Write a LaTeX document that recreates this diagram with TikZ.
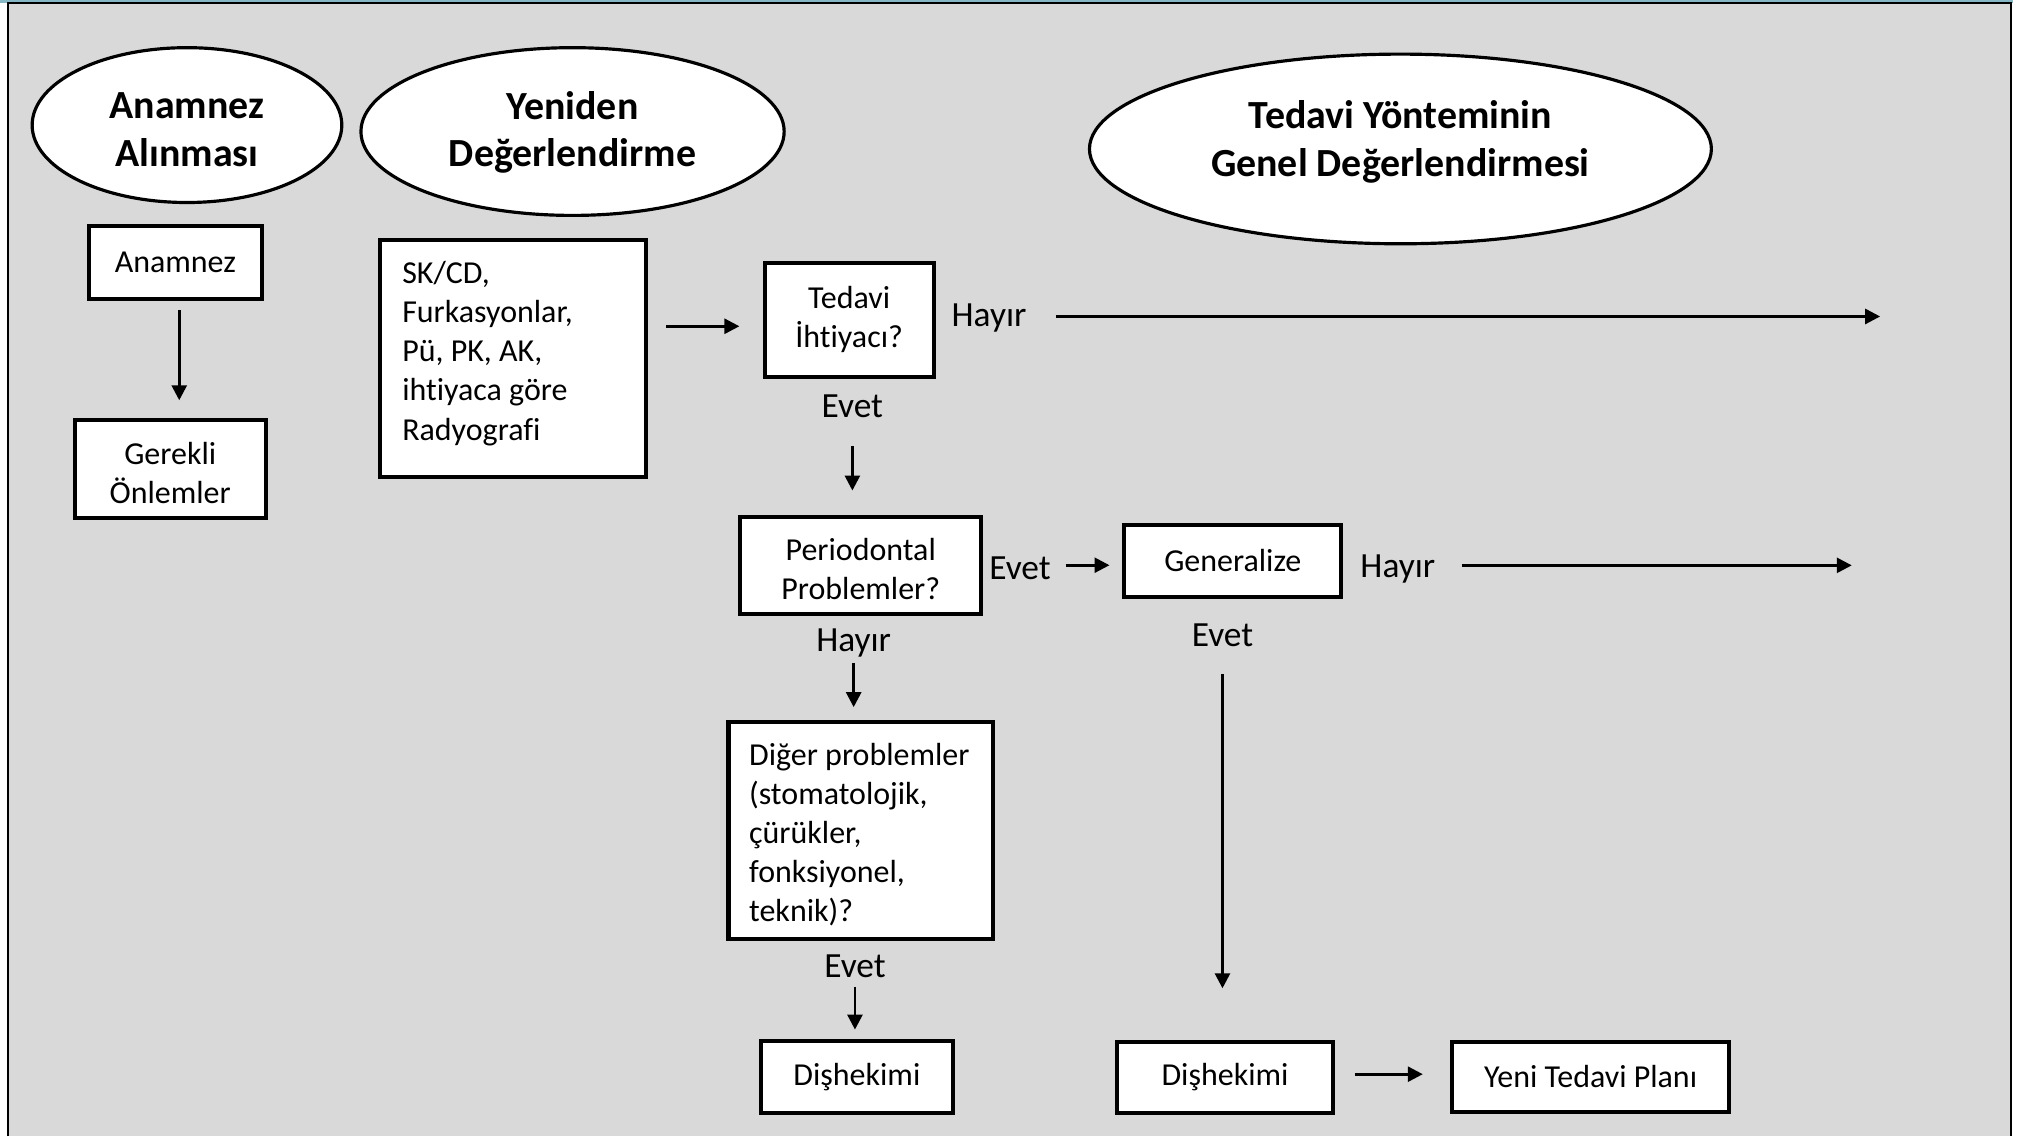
\documentclass[tikz,border=0pt]{standalone}
\usepackage{fontspec}
\setmainfont{Carlito}[Ligatures={NoCommon}]
\usetikzlibrary{arrows.meta, shapes.geometric}
\definecolor{cpanel}{HTML}{D9D9D9}
\definecolor{cteal}{HTML}{86B7C4}
\tikzset{
  every picture/.style={line width=0.6pt},
  box/.style={draw=black, fill=white, line width=0.9pt, align=flush center, inner sep=0pt, font=\fontsize{7.05}{8.62}\selectfont},
  phase/.style={ellipse, draw=black, fill=white, line width=0.7pt, align=flush center, inner sep=0pt, text depth=0pt, font=\fontsize{8.8}{10.5}\selectfont\bfseries},
  arrow/.style={-{Triangle[length=3.3pt, width=3.3pt]}, draw=black, line width=0.6pt},
  answer/.style={inner sep=0pt, anchor=base, font=\fontsize{7.8}{9}\selectfont},
}
\begin{document}
\begin{tikzpicture}[x=0.01cm, y=-0.01cm]
  \useasboundingbox (0,0) rectangle (1568,881);
  % panel
  \fill[cteal] (0,0) rectangle (1561,2.3);
  \fill[cpanel] (6,2.3) rectangle (1559.5,881);
  \draw[line width=0.5pt] (6,881) -- (6,2.3) -- (1559.5,2.3) -- (1559.5,881);
  % phases
  \node[phase, minimum width=2.40cm, minimum height=1.20cm, text height=18.2pt] (anamnezph) at (145,97) {Anamnez\\Alınması};
  \node[phase, minimum width=3.28cm, minimum height=1.30cm, text height=15.6pt] (yenidenph) at (444,102) {Yeniden\\Değerlendirme};
  \node[phase, minimum width=4.82cm, minimum height=1.47cm, text height=12.2pt] (genelph) at (1086,115.5) {Tedavi Yönteminin\\Genel Değerlendirmesi};
  % steps
  \node[box, minimum width=1.34cm, minimum height=0.57cm] (anamnez) at (136,203.5) {Anamnez};
  \node[box, minimum width=1.48cm, minimum height=0.76cm, text height=14.9pt, text depth=0pt] (onlem) at (132,364) {Gerekli\\Önlemler};
  \node[box, align=flush left, text width=1.72cm, inner xsep=0.17cm, minimum height=1.84cm, text height=3pt, text depth=36pt] (bulgu) at (398,278) {SK/CD,\\Furkasyonlar,\\Pü, PK, AK,\\ihtiyaca~göre\\Radyografi};
  \node[box, minimum width=1.31cm, minimum height=0.88cm] (ihtiyac) at (658.5,248) {Tedavi\\İhtiyacı?};
  \node[box, minimum width=1.87cm, minimum height=0.75cm, text height=15.2pt, text depth=0pt] (perio) at (667.5,438.5) {Periodontal\\Problemler?};
  \node[box, minimum width=1.68cm, minimum height=0.56cm] (general) at (956,435) {Generalize};
  \node[box, align=flush left, text width=1.73cm, inner xsep=0.16cm, minimum height=1.68cm, text height=7.2pt, text depth=36pt] (diger) at (667.5,644) {Diğer~problemler\\(stomatolojik,\\çürükler,\\fonksiyonel,\\teknik)?};
  \node[box, minimum width=1.49cm, minimum height=0.56cm] (dis1) at (664.5,835) {Dişhekimi};
  \node[box, minimum width=1.68cm, minimum height=0.55cm] (dis2) at (950,835.5) {Dişhekimi};
  \node[box, minimum width=2.15cm, minimum height=0.54cm] (yeniplan) at (1233.5,835) {Yeni Tedavi Planı};
  % answers
  \node[answer] (hayir1) at (767,253) {Hayır};
  \node[answer] (evet1) at (661,324) {Evet};
  \node[answer] (evet2) at (791,449) {Evet};
  \node[answer] (hayir2) at (1084,448) {Hayır};
  \node[answer] (hayir3) at (662,505) {Hayır};
  \node[answer] (evet3) at (948,501) {Evet};
  \node[answer] (evet4) at (663,758) {Evet};
  \coordinate (hayir1end) at (1458,245);
  \coordinate (hayir2end) at (1436,437);
  % connectors
  \draw[arrow, shorten <=0.07cm, shorten >=0.14cm] ([xshift=0.03cm]anamnez.south) -- ([xshift=0.03cm]anamnez.south |- onlem.north);
  \draw[arrow, shorten <=0.14cm, shorten >=0.18cm] ([yshift=-0.05cm]bulgu.east |- ihtiyac.west) -- ([yshift=-0.05cm]ihtiyac.west);
  \draw[arrow, shorten <=0.215cm] ([yshift=0.01cm]hayir1.east) -- ([yshift=0.01cm]hayir1.east -| hayir1end);
  \draw[arrow, shorten <=0.22cm, shorten >=0.19cm] (evet1.base) -- (evet1.base |- perio.north);
  \draw[arrow, shorten <=0.105cm, shorten >=0.10cm] ([yshift=0.02cm]evet2.east) -- ([yshift=0.02cm]evet2.east -| general.west);
  \draw[arrow, shorten <=0.195cm] ([yshift=0.03cm]hayir2.east) -- ([yshift=0.03cm]hayir2.east -| hayir2end);
  \draw[arrow, shorten <=0.09cm, shorten >=0.10cm] (hayir3.base) -- (hayir3.base |- diger.north);
  \draw[arrow, shorten <=0.22cm, shorten >=0.40cm] (evet3.base) -- (evet3.base |- dis2.north);
  \draw[arrow, shorten <=0.07cm, shorten >=0.07cm] (evet4.base) -- (evet4.base |- dis1.north);
  \draw[arrow, shorten <=0.15cm, shorten >=0.21cm] ([yshift=0.025cm]dis2.east) -- ([yshift=0.025cm]dis2.east -| yeniplan.west);
\end{tikzpicture}
\end{document}
